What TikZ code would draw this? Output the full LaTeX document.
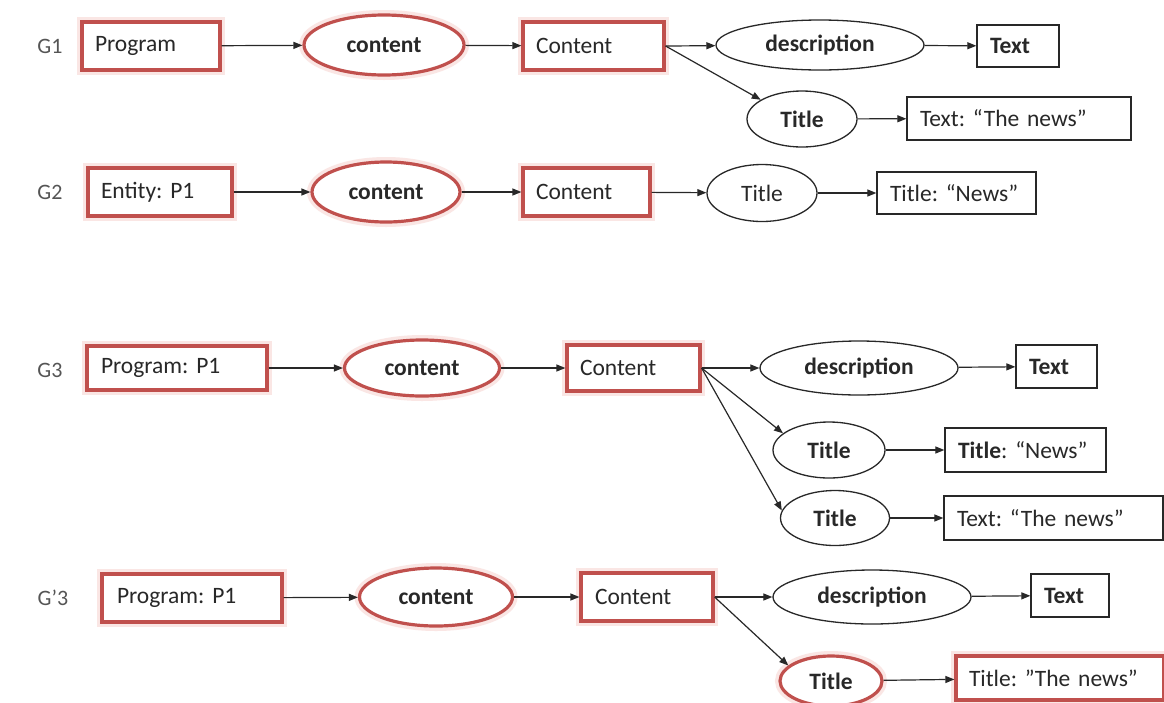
\documentclass[tikz,border=0pt]{standalone}
\usepackage{fontspec}
\setmainfont{Carlito}
\usetikzlibrary{shapes.geometric,arrows.meta}
\definecolor{boxred}{RGB}{192,80,77}
\definecolor{glow}{RGB}{250,230,228}
\definecolor{lbl}{RGB}{85,85,85}
\definecolor{ink}{RGB}{40,40,40}
\frenchspacing
\begin{document}
\begin{tikzpicture}[x=1pt,y=-1pt,
  txt/.style={font=\fontsize{23.5}{27}\selectfont, text=ink},
  glab/.style={font=\fontsize{22}{26}\selectfont, text=lbl},
  bx/.style={txt, rectangle, fill=white, draw=ink, line width=1.3pt, inner xsep=13pt, inner ysep=0pt, align=left},
  el/.style={txt, ellipse, fill=white, draw=ink, line width=1.3pt, inner sep=0pt},
  red/.style={draw=boxred, line width=3.2pt, preaction={draw=glow, line width=10pt}},
  arr/.style={draw=ink, line width=1.2pt, -{Triangle[length=9pt,width=7pt]}}
]
\useasboundingbox (0,0) rectangle (1164,702);
\fill[white] (0,0) rectangle (1164,702);

% ---------- G1 ----------
\node[glab] (g1) at (50,46) {G1};
\node[bx, red, minimum width=138pt, minimum height=48pt, text width=112pt] (p1) at (151,46) {Program};
\node[el, red, minimum width=160pt, minimum height=60pt] (e1) at (384,45) {\textbf{content}};
\node[bx, red, minimum width=141pt, minimum height=48pt, text width=115pt] (c1) at (593.5,46) {Content};
\node[el, minimum width=208pt, minimum height=50pt] (d1) at (820,45) {\textbf{description}};
\node[bx, minimum width=82pt, minimum height=42pt, text width=56pt] (t1) at (1018,46) {\textbf{Text}};
\node[el, minimum width=110pt, minimum height=56pt] (ti1) at (802,119) {\textbf{Title}};
\node[bx, minimum width=224pt, minimum height=43pt, text width=198pt] (n1) at (1019,118.5) {Text: “The news”};
\draw[arr] (p1) -- (e1);
\draw[arr] (e1) -- (c1);
\draw[arr] (c1.east) -- (d1);
\draw[arr] (c1.east) -- (ti1.155);
\draw[arr] (d1) -- (t1);
\draw[arr] (ti1) -- (n1);

% ---------- G2 ----------
\node[glab] (g2) at (50,192) {G2};
\node[bx, red, minimum width=144pt, minimum height=48pt, text width=118pt] (p2) at (160,192) {Entity: P1};
\node[el, red, minimum width=148pt, minimum height=60pt] (e2) at (386,192) {\textbf{content}};
\node[bx, red, minimum width=127pt, minimum height=48pt, text width=101pt] (c2) at (586.5,192) {Content};
\node[el, minimum width=110pt, minimum height=57pt] (ti2) at (762,193) {Title};
\node[bx, minimum width=159pt, minimum height=42pt, text width=133pt] (n2) at (956.5,193) {Title: “News”};
\draw[arr] (p2) -- (e2);
\draw[arr] (e2) -- (c2);
\draw[arr] (c2) -- (ti2);
\draw[arr] (ti2) -- (n2);

% ---------- G3 ----------
\node[glab] (g3) at (50,370) {G3};
\node[bx, red, minimum width=180pt, minimum height=44pt, text width=152pt, inner xsep=14pt] (p3) at (177,368) {Program: P1};
\node[el, red, minimum width=155pt, minimum height=56pt] (e3) at (422,368) {\textbf{content}};
\node[bx, red, minimum width=133pt, minimum height=46pt, text width=107pt] (c3) at (633.5,368) {Content};
\node[el, minimum width=198pt, minimum height=54pt] (d3) at (859,368) {\textbf{description}};
\node[bx, minimum width=81pt, minimum height=43pt, text width=55pt] (t3) at (1056.5,366.5) {\textbf{Text}};
\node[el, minimum width=112pt, minimum height=56pt] (ti3) at (829,450) {\textbf{Title}};
\node[bx, minimum width=161pt, minimum height=44pt, text width=135pt] (n3) at (1025.5,450) {\textbf{Title}: “News”};
\node[el, minimum width=109pt, minimum height=55pt] (ti4) at (835,518) {\textbf{Title}};
\node[bx, minimum width=219pt, minimum height=44pt, text width=193pt] (n4) at (1053.5,518) {Text: “The news”};
\draw[arr] (p3) -- (e3);
\draw[arr] (e3) -- (c3);
\draw[arr] (c3.east) -- (d3);
\draw[arr] (c3.east) -- (ti3.160);
\draw[arr] (c3.east) -- (ti4.172);
\draw[arr] (d3) -- (t3);
\draw[arr] (ti3) -- (n3);
\draw[arr] (ti4) -- (n4);

% ---------- G'3 ----------
\node[glab] (g4) at (53,598) {G’3};
\node[bx, red, minimum width=180pt, minimum height=48pt, text width=150pt, inner xsep=15pt] (p4) at (192,598) {Program: P1};
\node[el, red, minimum width=153pt, minimum height=58pt] (e4) at (436,597) {\textbf{content}};
\node[bx, red, minimum width=132pt, minimum height=48pt, text width=104pt, inner xsep=14pt] (c4) at (647,597) {Content};
\node[el, minimum width=198pt, minimum height=54pt] (d4) at (872,597) {\textbf{description}};
\node[bx, minimum width=78pt, minimum height=43pt, text width=52pt] (t4) at (1070,595.5) {\textbf{Text}};
\node[el, red, minimum width=102pt, minimum height=50pt] (ti5) at (831,681) {\textbf{Title}};
\node[bx, red, minimum width=208pt, minimum height=44pt, text width=182pt] (n5) at (1060,678) {Title: ”The news”};
\draw[arr] (p4) -- (e4);
\draw[arr] (e4) -- (c4);
\draw[arr] (c4.east) -- (d4);
\draw[arr] (c4.east) -- (ti5.160);
\draw[arr] (d4) -- (t4);
\draw[arr] (ti5) -- (n5);
\end{tikzpicture}
\end{document}
